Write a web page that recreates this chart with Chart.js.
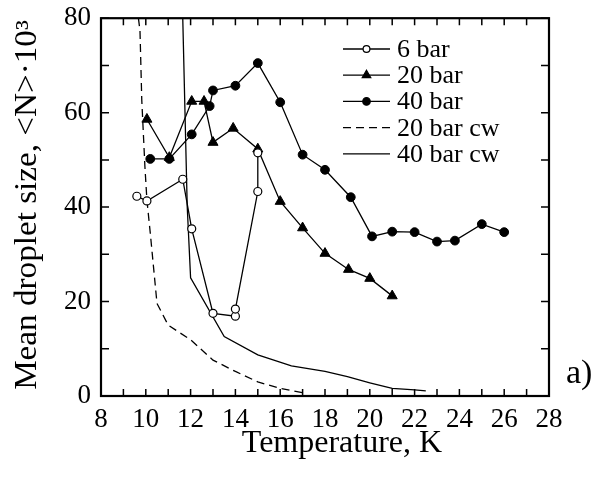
<!DOCTYPE html>
<html>
<head>
<meta charset="utf-8">
<script src="https://cdn.jsdelivr.net/npm/chart.js@4/dist/chart.umd.min.js"></script>
<style>
  body { margin: 0; background: #fff; }
  #wrap { width: 600px; height: 479px; }
</style>
</head>
<body>
<div id="wrap"><canvas id="dropChart" width="600" height="479"></canvas></div>
<script>
// data (temperature K, mean droplet size <N>*10^3)
const bar6T = [9.6, 10.05, 11.65, 12.05, 13.0, 14.0, 14.0, 15.0, 15.0];
const bar6N = [42.3, 41.3, 45.9, 35.4, 17.5, 16.9, 18.4, 43.3, 51.5];

const bar20T = [10.05, 11.05, 12.05, 12.6, 13.0, 13.9, 15.0, 16.0, 17.0, 18.0, 19.05, 20.0, 21.0];
const bar20N = [58.6, 50.5, 62.4, 62.4, 53.7, 56.7, 52.3, 41.2, 35.6, 30.2, 26.8, 24.9, 21.2];

const bar40T = [10.2, 11.05, 12.05, 12.85, 13.0, 14.0, 15.0, 16.0, 17.0, 18.0, 19.15, 20.1, 21.0, 22.0, 23.0, 23.8, 25.0, 26.0];
const bar40N = [50.2, 50.2, 55.4, 61.4, 64.7, 65.7, 70.5, 62.2, 51.1, 47.9, 42.1, 33.8, 34.8, 34.7, 32.7, 32.9, 36.4, 34.7];

const cw20T = [9.67, 9.74, 9.82, 9.96, 10.05, 10.2, 10.5, 11.0, 12.0, 13.0, 14.0, 15.0, 16.0, 17.0];
const cw20N = [80, 77.4, 62.7, 48.6, 41.5, 34.5, 19.6, 15.0, 11.9, 7.6, 5.2, 3.0, 1.6, 0.7];

const cw40T = [11.65, 11.85, 12.0, 13.5, 15.0, 16.5, 18.0, 19.0, 20.0, 21.0, 22.0, 22.5];
const cw40N = [80, 40, 25, 12.6, 8.7, 6.4, 5.2, 4.1, 2.8, 1.6, 1.3, 1.1];

const xTickLabels = [8, 10, 12, 14, 16, 18, 20, 22, 24, 26, 28];
const yTickLabels = [0, 20, 40, 60, 80];

function pts(xs, ys) {
  return xs.map((x, i) => ({ x: x, y: ys[i] }));
}

const serif = '"Liberation Serif", "Times New Roman", Times, serif';

// frame, inward ticks, axis titles, legend and panel label
const decor = {
  id: 'decor',
  afterDraw(chart) {
    const { ctx, chartArea: a, scales } = chart;
    ctx.save();
    ctx.strokeStyle = '#000';
    ctx.lineWidth = 1.5;
    ctx.beginPath();
    scales.x.ticks.forEach(t => {
      const px = scales.x.getPixelForValue(t.value);
      ctx.moveTo(px, a.bottom); ctx.lineTo(px, a.bottom - 7);
      ctx.moveTo(px, a.top); ctx.lineTo(px, a.top + 7);
    });
    scales.y.ticks.forEach(t => {
      const py = scales.y.getPixelForValue(t.value);
      ctx.moveTo(a.left, py); ctx.lineTo(a.left + 8, py);
      ctx.moveTo(a.right, py); ctx.lineTo(a.right - 8, py);
    });
    ctx.stroke();
    ctx.lineWidth = 2.2;
    ctx.strokeRect(a.left, a.top, a.right - a.left, a.bottom - a.top);

    ctx.fillStyle = '#000';
    ctx.textAlign = 'center';
    ctx.textBaseline = 'alphabetic';
    ctx.font = '32px ' + serif;
    ctx.fillText('Temperature, K', 342, 452);

    ctx.save();
    ctx.translate(36, 205);
    ctx.rotate(-Math.PI / 2);
    ctx.scale(1.07, 1);
    ctx.font = '31px ' + serif;
    ctx.fillText('Mean droplet size, <N>\u00b710\u00b3', 0, 0);
    ctx.restore();

    ctx.font = '34px ' + serif;
    ctx.textAlign = 'left';
    ctx.fillText('a)', 566, 383);

    // legend
    ctx.font = '26px ' + serif;
    chart.data.datasets.forEach((ds, i) => {
      const yy = 49 + i * 26.2;
      ctx.save();
      ctx.lineWidth = ds.borderWidth;
      ctx.setLineDash(ds.borderDash || []);
      ctx.beginPath();
      ctx.moveTo(343, yy); ctx.lineTo(390, yy);
      ctx.stroke();
      ctx.restore();
      if (ds.pointRadius > 0) {
        ctx.fillStyle = ds.pointBackgroundColor;
        ctx.strokeStyle = '#000';
        ctx.lineWidth = 1.2;
        Chart.helpers.drawPoint(ctx, { pointStyle: ds.pointStyle, radius: ds.pointRadius * 0.85, borderWidth: 1.2, rotation: 0 }, 366.5, yy);
      }
      ctx.fillStyle = '#000';
      ctx.fillText(ds.label, 397, yy + 8);
    });
    ctx.restore();
  }
};

function draw() {
  new Chart(document.getElementById('dropChart'), {
    type: 'line',
    data: {
      datasets: [
        {
          label: '6 bar',
          data: pts(bar6T, bar6N),
          borderColor: '#000', borderWidth: 1.3,
          pointStyle: 'circle', pointRadius: 4,
          pointBackgroundColor: '#fff', pointBorderColor: '#000', pointBorderWidth: 1.2
        },
        {
          label: '20 bar',
          data: pts(bar20T, bar20N),
          borderColor: '#000', borderWidth: 1.3,
          pointStyle: 'triangle', pointRadius: 5.8,
          pointBackgroundColor: '#000', pointBorderColor: '#000', pointBorderWidth: 1
        },
        {
          label: '40 bar',
          data: pts(bar40T, bar40N),
          borderColor: '#000', borderWidth: 1.3,
          pointStyle: 'circle', pointRadius: 4.4,
          pointBackgroundColor: '#000', pointBorderColor: '#000', pointBorderWidth: 1
        },
        {
          label: '20 bar cw',
          data: pts(cw20T, cw20N),
          borderColor: '#000', borderWidth: 1.3, borderDash: [8, 5],
          pointRadius: 0
        },
        {
          label: '40 bar cw',
          data: pts(cw40T, cw40N),
          borderColor: '#000', borderWidth: 1.3,
          pointRadius: 0
        }
      ]
    },
    options: {
      responsive: false,
      animation: false,
      devicePixelRatio: 1,
      layout: { padding: { left: 0, right: 51, top: 18, bottom: 0 } },
      plugins: { legend: { display: false }, tooltip: { enabled: false } },
      scales: {
        x: {
          type: 'linear', min: 8, max: 28,
          grid: { display: false },
          border: { display: false },
          ticks: {
            stepSize: 1, padding: 0, color: '#000', autoSkip: false, maxRotation: 0,
            font: { family: serif, size: 27 },
            callback: v => xTickLabels.includes(v) ? String(v) : ''
          },
          afterFit: s => { s.height = 83; }
        },
        y: {
          min: 0, max: 80,
          grid: { display: false },
          border: { display: false },
          ticks: {
            stepSize: 10, padding: 2, color: '#000', autoSkip: false,
            font: { family: serif, size: 27 },
            callback: v => yTickLabels.includes(v) ? String(v) : ''
          },
          afterFit: s => { s.width = 101; }
        }
      }
    },
    plugins: [decor]
  });
}

document.fonts.load('27px "Liberation Serif"').then(draw, draw);
</script>
</body>
</html>
